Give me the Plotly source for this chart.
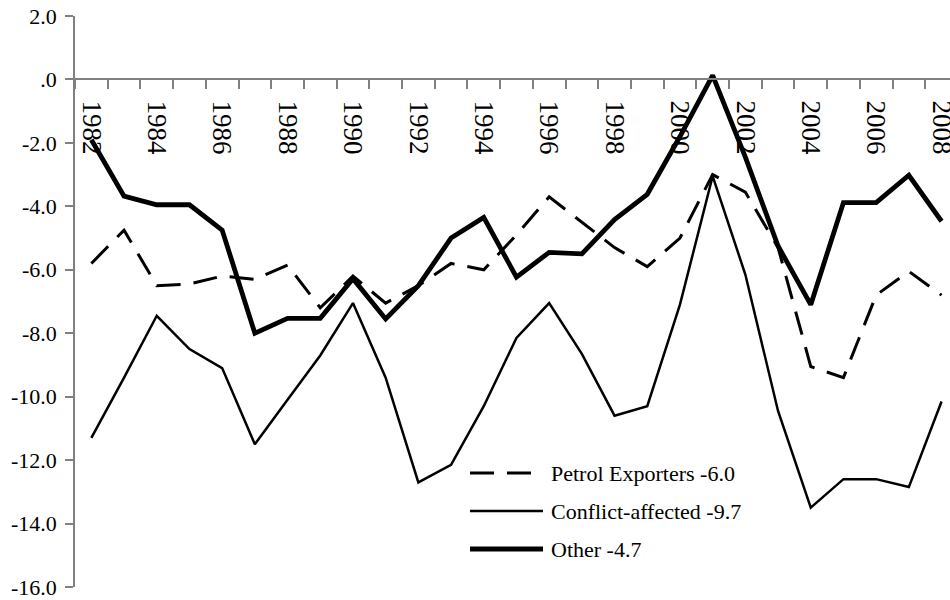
import plotly.graph_objects as go

years = list(range(1982, 2009))
petrol = [-5.8, -4.75, -6.5, -6.45, -6.2, -6.3, -5.85, -7.2, -6.2, -7.05, -6.5, -5.8, -6.0,
          -4.9, -3.7, -4.5, -5.3, -5.9, -5.0, -3.0, -3.55, -5.3, -9.05, -9.4, -6.8, -6.05, -6.8]
conflict = [-11.3, -9.4, -7.45, -8.5, -9.1, -11.5, -10.1, -8.7, -7.05, -9.4, -12.7, -12.15, -10.3,
            -8.15, -7.05, -8.65, -10.6, -10.3, -7.1, -3.05, -6.15, -10.45, -13.5, -12.6, -12.6, -12.85, -10.15]
other = [-1.9, -3.68, -3.95, -3.95, -4.75, -8.0, -7.53, -7.53, -6.28, -7.55, -6.5, -5.0, -4.35,
         -6.23, -5.45, -5.5, -4.42, -3.62, -1.8, 0.13, -2.45, -5.25, -7.1, -3.88, -3.88, -3.02, -4.47]
series_names = ["Petrol Exporters -6.0", "Conflict-affected -9.7", "Other -4.7"]
y_tickvals = [2, 0, -2, -4, -6, -8, -10, -12, -14, -16]
y_ticktext = ["2.0", ".0", "-2.0", "-4.0", "-6.0", "-8.0", "-10.0", "-12.0", "-14.0", "-16.0"]
x_tickvals = list(range(1982, 2009, 2))

SERIF = "'Liberation Serif', 'Times New Roman', Times, serif"

styles = [dict(color="black", width=3, dash="24px,13px"),
          dict(color="black", width=2.5),
          dict(color="black", width=4.8)]
data = [petrol, conflict, other]

fig = go.Figure()
for name, vals, st in zip(series_names, data, styles):
    fig.add_trace(go.Scatter(x=years, y=vals, mode="lines", name=name, line=st,
                             showlegend=False, cliponaxis=False, hoverinfo="skip"))

# manual legend (long line samples like the original)
leg_y = [473, 511, 549]
H = 600
for name, st, yy in zip(series_names, styles, leg_y):
    yf = (H - 13 - yy) / 571
    fig.add_shape(type="line", xref="paper", yref="paper",
                  x0=(470 - 75) / 875, x1=(543 - 75) / 875, y0=yf, y1=yf, line=st)
    fig.add_annotation(xref="paper", yref="paper", x=(549 - 75) / 875, y=yf,
                       text=name, showarrow=False, xanchor="left", yanchor="middle",
                       font=dict(family=SERIF, size=22, color="black"))

fig.update_layout(
    width=950, height=600,
    margin=dict(l=75, r=0, t=16, b=13, autoexpand=False),
    plot_bgcolor="white", paper_bgcolor="white",
    font=dict(family=SERIF, color="black"),
    xaxis=dict(range=[1981.5, 1981.5 + 875 / 32.7], anchor="free", position=16 / 18,
               automargin=False,
               showline=True, linecolor="#808080", linewidth=1.5,
               tickmode="array", tickvals=x_tickvals, ticktext=[str(v) for v in x_tickvals],
               tickangle=90, ticks="outside", ticklen=9, tickcolor="rgba(0,0,0,0)",
               ticklabelstandoff=6, ticklabeloverflow="allow",
               tickfont=dict(family=SERIF, size=27, color="black"),
               minor=dict(tickmode="array", tickvals=[y + 0.5 for y in range(1981, 2009)],
                          ticks="outside", ticklen=9, tickcolor="#808080", tickwidth=1.5),
               showgrid=False, zeroline=False),
    yaxis=dict(range=[-16, 2], automargin=False,
               showline=True, linecolor="#808080", linewidth=1.5,
               tickmode="array", tickvals=y_tickvals, ticktext=y_ticktext,
               ticks="outside", ticklen=8, tickcolor="#808080", tickwidth=1.5,
               ticklabelstandoff=4, ticklabeloverflow="allow",
               tickfont=dict(family=SERIF, size=22, color="black"),
               showgrid=False, zeroline=False),
)

fig.write_html("out.html", config={"displayModeBar": False},
               post_script="document.body.style.margin='0';document.body.style.overflow='hidden';")
